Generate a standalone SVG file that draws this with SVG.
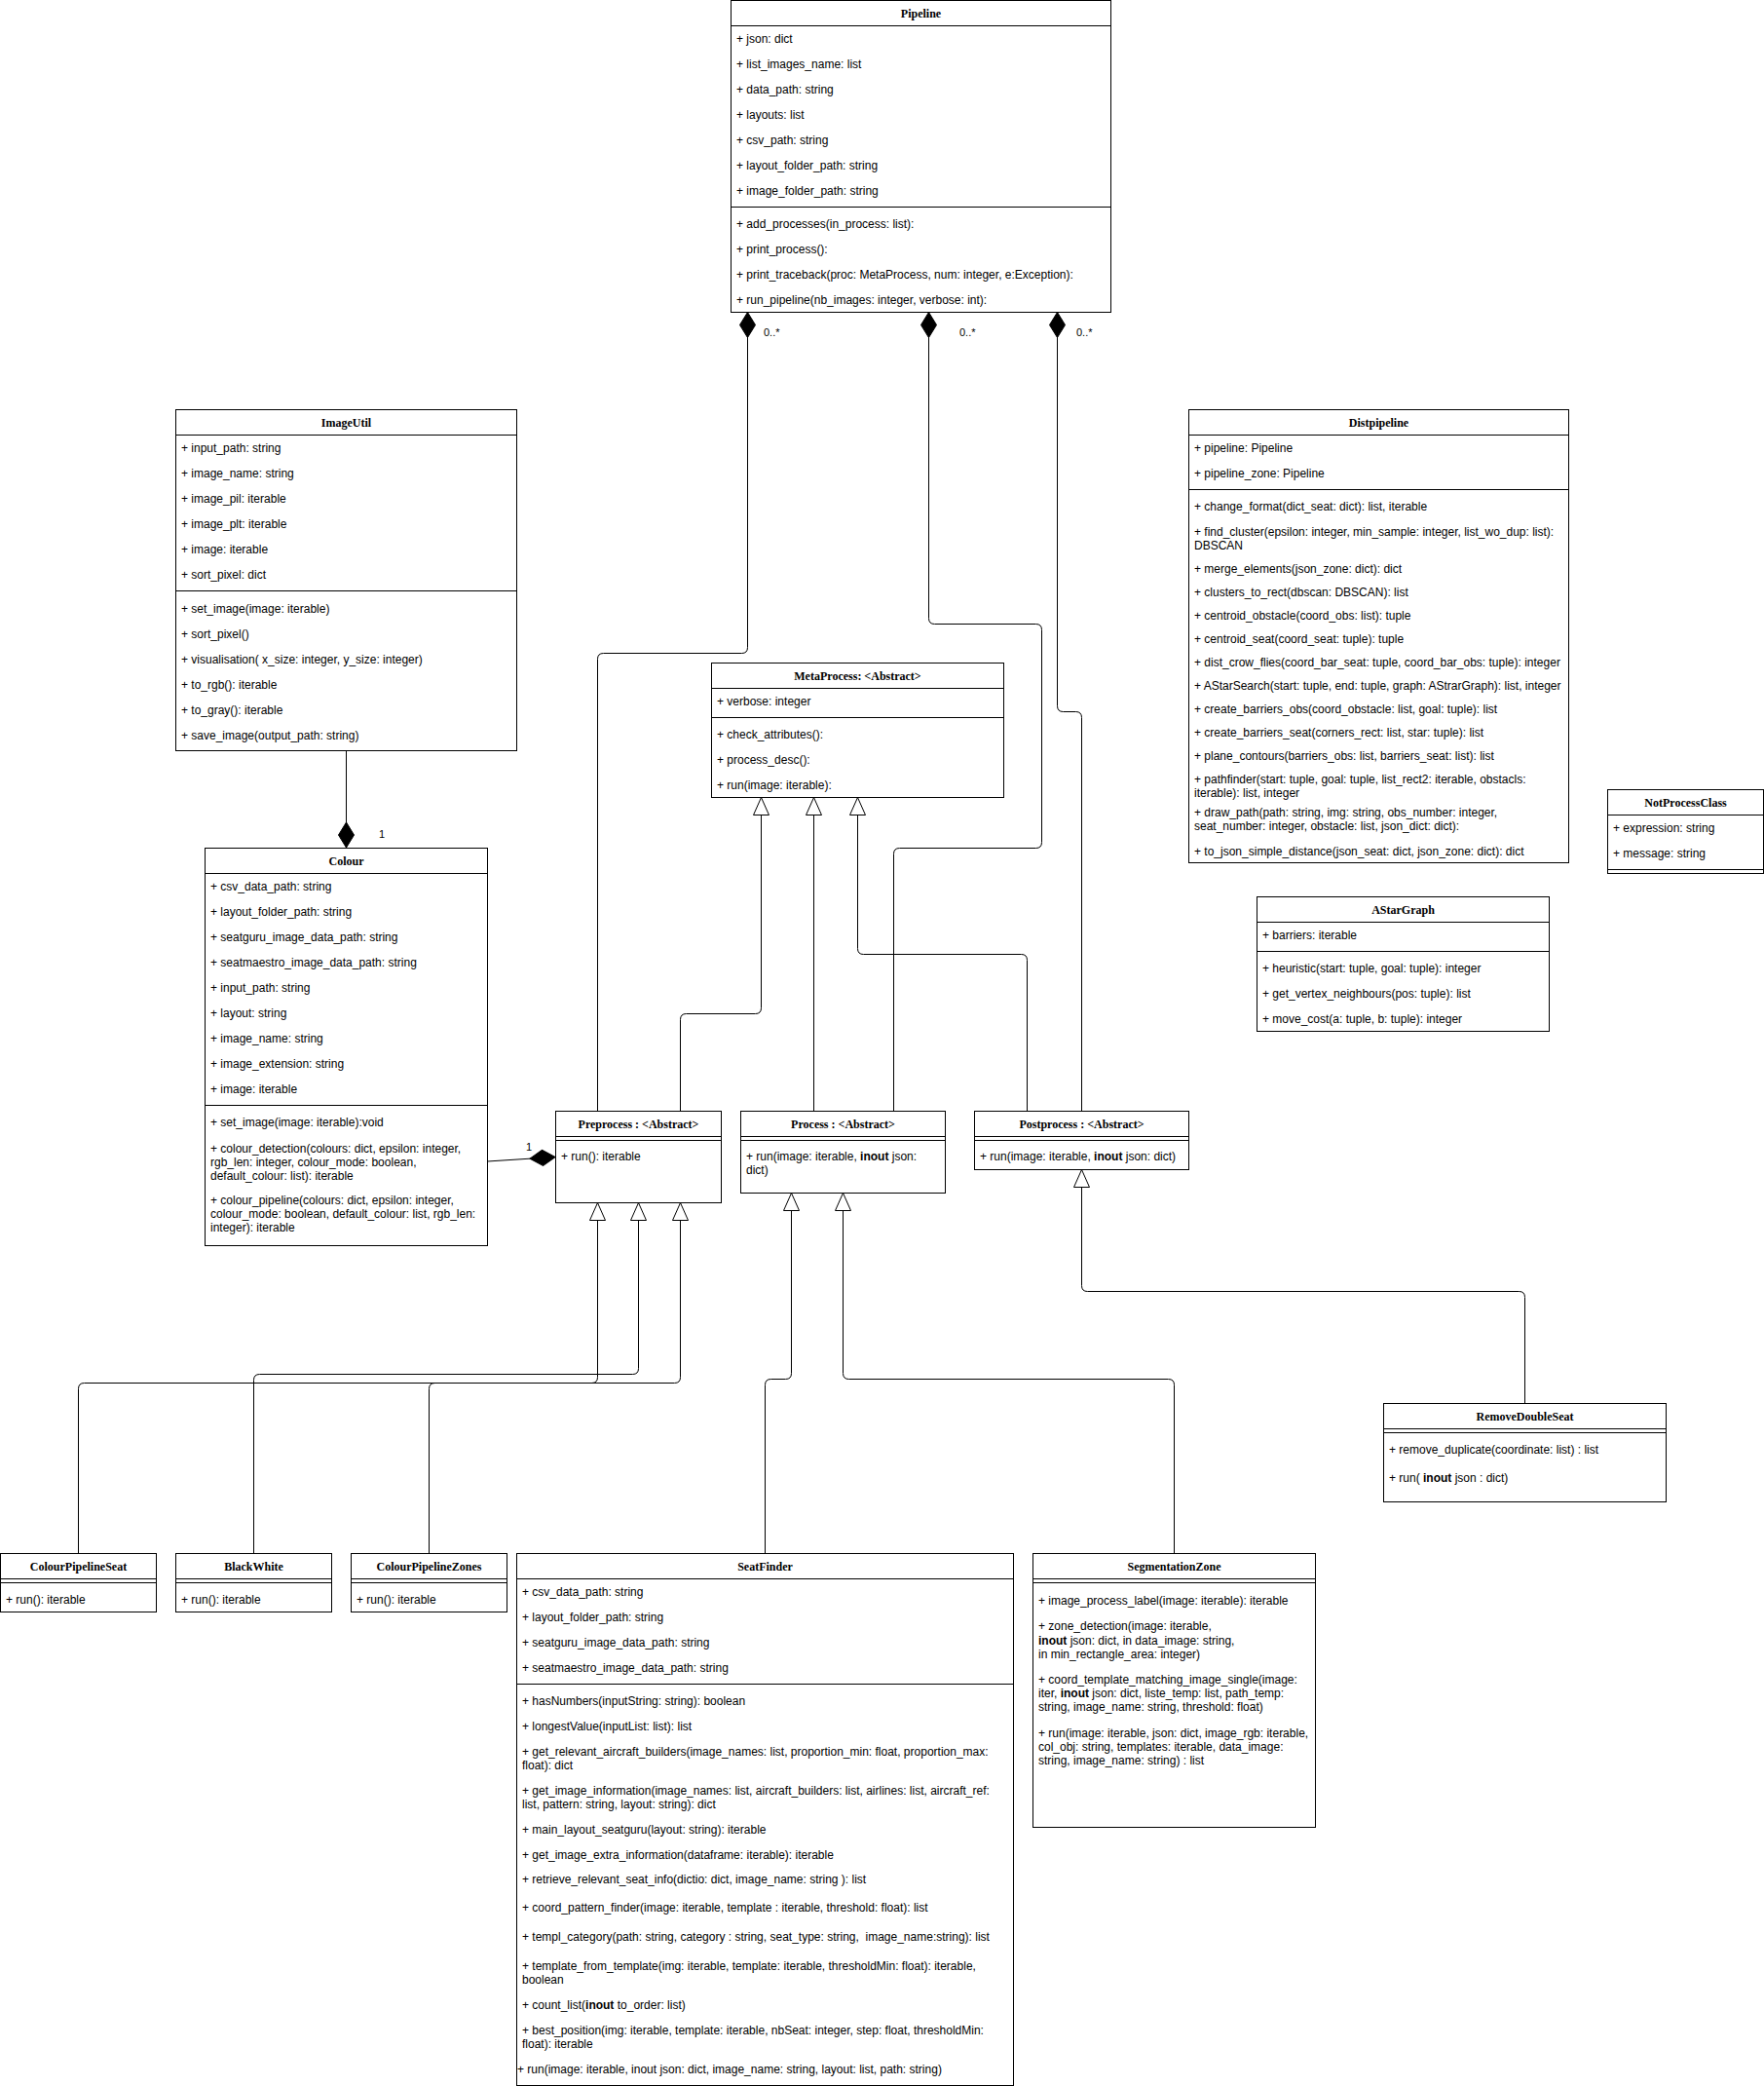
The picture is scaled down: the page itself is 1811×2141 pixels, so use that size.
<svg xmlns="http://www.w3.org/2000/svg" width="1811" height="2141" viewBox="0 0 1811 2141">
<style>
.bg{fill:#fff}
.box{fill:#fff;stroke:#000;stroke-width:1}
.sep{stroke:#000;stroke-width:1;fill:none}
.ln{stroke:#000;stroke-width:1;fill:none}
.t{font-family:"Liberation Sans",Arial,sans-serif;font-size:12px;fill:#000}
.h{font-family:"Liberation Serif","Times New Roman",serif;font-size:12px;font-weight:bold;fill:#000;text-anchor:middle}
.lbl{font-family:"Liberation Sans",Arial,sans-serif;font-size:11px;fill:#000}
.b{font-weight:bold}
</style>
<defs>
<marker id="tri" viewBox="0 0 18 16" refX="18" refY="8" markerWidth="18" markerHeight="16" markerUnits="userSpaceOnUse" orient="auto" overflow="visible"><path d="M0,0 L18,8 L0,16 Z" fill="#fff" stroke="#000" stroke-width="1"/></marker>
<marker id="dia" viewBox="0 0 26 16" refX="0" refY="8" markerWidth="26" markerHeight="16" markerUnits="userSpaceOnUse" orient="auto" overflow="visible"><path d="M0,8 L13,0 L26,8 L13,16 Z" fill="#000" stroke="#000" stroke-width="1"/></marker>
</defs>
<rect class="bg" x="0" y="0" width="1811" height="2141"/>

<g id="connectors">
<path class="ln" marker-start="url(#dia)" d="M767.5,320.5 V664.5 Q767.5,670.5 761.5,670.5 H619.5 Q613.5,670.5 613.5,676.5 V1140"/>
<path class="ln" marker-start="url(#dia)" d="M953.5,320.5 V634.5 Q953.5,640.5 959.5,640.5 H1063.5 Q1069.5,640.5 1069.5,646.5 V864.5 Q1069.5,870.5 1063.5,870.5 H923.5 Q917.5,870.5 917.5,876.5 V1140"/>
<path class="ln" marker-start="url(#dia)" d="M1085.5,320.5 V724.5 Q1085.5,730.5 1091.5,730.5 H1104.5 Q1110.5,730.5 1110.5,736.5 V1140"/>
<path class="ln" marker-end="url(#tri)" d="M698.5,1140 V1046.5 Q698.5,1040.5 704.5,1040.5 H775.5 Q781.5,1040.5 781.5,1034.5 V818.5"/>
<path class="ln" marker-end="url(#tri)" d="M835.5,1140 V818.5"/>
<path class="ln" marker-end="url(#tri)" d="M1054.5,1140 V985.5 Q1054.5,979.5 1048.5,979.5 H886.5 Q880.5,979.5 880.5,973.5 V818.5"/>
<path class="ln" marker-end="url(#tri)" d="M80.5,1594 V1425.5 Q80.5,1419.5 86.5,1419.5 H607.5 Q613.5,1419.5 613.5,1413.5 V1234.5"/>
<path class="ln" marker-end="url(#tri)" d="M260.5,1594 V1416.5 Q260.5,1410.5 266.5,1410.5 H649.5 Q655.5,1410.5 655.5,1404.5 V1234.5"/>
<path class="ln" marker-end="url(#tri)" d="M440.5,1594 V1425.5 Q440.5,1419.5 446.5,1419.5 H692.5 Q698.5,1419.5 698.5,1413.5 V1234.5"/>
<path class="ln" marker-end="url(#tri)" d="M785.5,1594 V1421.5 Q785.5,1415.5 791.5,1415.5 H806.5 Q812.5,1415.5 812.5,1409.5 V1224.5"/>
<path class="ln" marker-end="url(#tri)" d="M1205.5,1594 V1421.5 Q1205.5,1415.5 1199.5,1415.5 H871.5 Q865.5,1415.5 865.5,1409.5 V1224.5"/>
<path class="ln" marker-end="url(#tri)" d="M1565.5,1440 V1331.5 Q1565.5,1325.5 1559.5,1325.5 H1116.5 Q1110.5,1325.5 1110.5,1319.5 V1200.5"/>
<path class="ln" marker-start="url(#dia)" d="M355.5,870 V770"/>
<path class="ln" marker-start="url(#dia)" d="M570,1187.5 L500.5,1192"/>
<text class="lbl" x="784" y="345">0..*</text>
<text class="lbl" x="985" y="345">0..*</text>
<text class="lbl" x="1105" y="345">0..*</text>
<text class="lbl" x="392" y="860" text-anchor="middle">1</text>
<text class="lbl" x="543" y="1181" text-anchor="middle">1</text>
</g>

<g id="Pipeline">
<rect class="box" x="750.5" y="0.5" width="390" height="320"/>
<line class="sep" x1="750.5" y1="26.5" x2="1140.5" y2="26.5"/>
<line class="sep" x1="750.5" y1="212.5" x2="1140.5" y2="212.5"/>
<text class="h" x="945.5" y="18">Pipeline</text>
<text class="t" x="756" y="44">+ json: dict</text>
<text class="t" x="756" y="70">+ list_images_name: list</text>
<text class="t" x="756" y="96">+ data_path: string</text>
<text class="t" x="756" y="122">+ layouts: list</text>
<text class="t" x="756" y="148">+ csv_path: string</text>
<text class="t" x="756" y="174">+ layout_folder_path: string</text>
<text class="t" x="756" y="200">+ image_folder_path: string</text>
<text class="t" x="756" y="234">+ add_processes(in_process: list):</text>
<text class="t" x="756" y="260">+ print_process():</text>
<text class="t" x="756" y="286">+ print_traceback(proc: MetaProcess, num: integer, e:Exception):</text>
<text class="t" x="756" y="312">+ run_pipeline(nb_images: integer, verbose: int):</text>
</g>

<g id="ImageUtil">
<rect class="box" x="180.5" y="420.5" width="350" height="350"/>
<line class="sep" x1="180.5" y1="446.5" x2="530.5" y2="446.5"/>
<line class="sep" x1="180.5" y1="606.5" x2="530.5" y2="606.5"/>
<text class="h" x="355.5" y="438">ImageUtil</text>
<text class="t" x="186" y="464">+ input_path: string</text>
<text class="t" x="186" y="490">+ image_name: string</text>
<text class="t" x="186" y="516">+ image_pil: iterable</text>
<text class="t" x="186" y="542">+ image_plt: iterable</text>
<text class="t" x="186" y="568">+ image: iterable</text>
<text class="t" x="186" y="594">+ sort_pixel: dict</text>
<text class="t" x="186" y="629">+ set_image(image: iterable)</text>
<text class="t" x="186" y="655">+ sort_pixel()</text>
<text class="t" x="186" y="681">+ visualisation( x_size: integer, y_size: integer)</text>
<text class="t" x="186" y="707">+ to_rgb(): iterable</text>
<text class="t" x="186" y="733">+ to_gray(): iterable</text>
<text class="t" x="186" y="759">+ save_image(output_path: string)</text>
</g>

<g id="Colour">
<rect class="box" x="210.5" y="870.5" width="290" height="408"/>
<line class="sep" x1="210.5" y1="896.5" x2="500.5" y2="896.5"/>
<line class="sep" x1="210.5" y1="1134.5" x2="500.5" y2="1134.5"/>
<text class="h" x="355.5" y="888">Colour</text>
<text class="t" x="216" y="914">+ csv_data_path: string</text>
<text class="t" x="216" y="940">+ layout_folder_path: string</text>
<text class="t" x="216" y="966">+ seatguru_image_data_path: string</text>
<text class="t" x="216" y="992">+ seatmaestro_image_data_path: string</text>
<text class="t" x="216" y="1018">+ input_path: string</text>
<text class="t" x="216" y="1044">+ layout: string</text>
<text class="t" x="216" y="1070">+ image_name: string</text>
<text class="t" x="216" y="1096">+ image_extension: string</text>
<text class="t" x="216" y="1122">+ image: iterable</text>
<text class="t" x="216" y="1156">+ set_image(image: iterable):void</text>
<text class="t" x="216" y="1182.5">+ colour_detection(colours: dict, epsilon: integer,</text>
<text class="t" x="216" y="1196.5">rgb_len: integer, colour_mode: boolean,</text>
<text class="t" x="216" y="1210.5">default_colour: list): iterable</text>
<text class="t" x="216" y="1236">+ colour_pipeline(colours: dict, epsilon: integer,</text>
<text class="t" x="216" y="1250">colour_mode: boolean, default_colour: list, rgb_len:</text>
<text class="t" x="216" y="1264">integer): iterable</text>
</g>

<g id="MetaProcess">
<rect class="box" x="730.5" y="680.5" width="300" height="138"/>
<line class="sep" x1="730.5" y1="706.5" x2="1030.5" y2="706.5"/>
<line class="sep" x1="730.5" y1="736.5" x2="1030.5" y2="736.5"/>
<text class="h" x="880.5" y="698">MetaProcess: &lt;Abstract&gt;</text>
<text class="t" x="736" y="724">+ verbose: integer</text>
<text class="t" x="736" y="758">+ check_attributes():</text>
<text class="t" x="736" y="784">+ process_desc():</text>
<text class="t" x="736" y="810">+ run(image: iterable):</text>
</g>

<g id="Distpipeline">
<rect class="box" x="1220.5" y="420.5" width="390" height="465"/>
<line class="sep" x1="1220.5" y1="446.5" x2="1610.5" y2="446.5"/>
<line class="sep" x1="1220.5" y1="502.5" x2="1610.5" y2="502.5"/>
<text class="h" x="1415.5" y="438">Distpipeline</text>
<text class="t" x="1226" y="464">+ pipeline: Pipeline</text>
<text class="t" x="1226" y="490">+ pipeline_zone: Pipeline</text>
<text class="t" x="1226" y="524">+ change_format(dict_seat: dict): list, iterable</text>
<text class="t" x="1226" y="550">+ find_cluster(epsilon: integer, min_sample: integer, list_wo_dup: list):</text>
<text class="t" x="1226" y="564">DBSCAN</text>
<text class="t" x="1226" y="588">+ merge_elements(json_zone: dict): dict</text>
<text class="t" x="1226" y="612">+ clusters_to_rect(dbscan: DBSCAN): list</text>
<text class="t" x="1226" y="636">+ centroid_obstacle(coord_obs: list): tuple</text>
<text class="t" x="1226" y="660">+ centroid_seat(coord_seat: tuple): tuple</text>
<text class="t" x="1226" y="684">+ dist_crow_flies(coord_bar_seat: tuple, coord_bar_obs: tuple): integer</text>
<text class="t" x="1226" y="708">+ AStarSearch(start: tuple, end: tuple, graph: AStrarGraph): list, integer</text>
<text class="t" x="1226" y="732">+ create_barriers_obs(coord_obstacle: list, goal: tuple): list</text>
<text class="t" x="1226" y="756">+ create_barriers_seat(corners_rect: list, star: tuple): list</text>
<text class="t" x="1226" y="780">+ plane_contours(barriers_obs: list, barriers_seat: list): list</text>
<text class="t" x="1226" y="804">+ pathfinder(start: tuple, goal: tuple, list_rect2: iterable, obstacls:</text>
<text class="t" x="1226" y="818">iterable): list, integer</text>
<text class="t" x="1226" y="837.5">+ draw_path(path: string, img: string, obs_number: integer,</text>
<text class="t" x="1226" y="852">seat_number: integer, obstacle: list, json_dict: dict):</text>
<text class="t" x="1226" y="878">+ to_json_simple_distance(json_seat: dict, json_zone: dict): dict</text>
</g>

<g id="NotProcessClass">
<rect class="box" x="1650.5" y="810.5" width="160" height="86"/>
<line class="sep" x1="1650.5" y1="836.5" x2="1810.5" y2="836.5"/>
<line class="sep" x1="1650.5" y1="892.5" x2="1810.5" y2="892.5"/>
<text class="h" x="1730.5" y="828">NotProcessClass</text>
<text class="t" x="1656" y="854">+ expression: string</text>
<text class="t" x="1656" y="880">+ message: string</text>
</g>

<g id="AStarGraph">
<rect class="box" x="1290.5" y="920.5" width="300" height="138"/>
<line class="sep" x1="1290.5" y1="946.5" x2="1590.5" y2="946.5"/>
<line class="sep" x1="1290.5" y1="976.5" x2="1590.5" y2="976.5"/>
<text class="h" x="1440.5" y="938">AStarGraph</text>
<text class="t" x="1296" y="964">+ barriers: iterable</text>
<text class="t" x="1296" y="998">+ heuristic(start: tuple, goal: tuple): integer</text>
<text class="t" x="1296" y="1024">+ get_vertex_neighbours(pos: tuple): list</text>
<text class="t" x="1296" y="1050">+ move_cost(a: tuple, b: tuple): integer</text>
</g>

<g id="Preprocess">
<rect class="box" x="570.5" y="1140.5" width="170" height="94"/>
<line class="sep" x1="570.5" y1="1166.5" x2="740.5" y2="1166.5"/>
<line class="sep" x1="570.5" y1="1170.5" x2="740.5" y2="1170.5"/>
<text class="h" x="655.5" y="1158">Preprocess : &lt;Abstract&gt;</text>
<text class="t" x="576" y="1191">+ run(): iterable</text>
</g>

<g id="Process">
<rect class="box" x="760.5" y="1140.5" width="210" height="84"/>
<line class="sep" x1="760.5" y1="1166.5" x2="970.5" y2="1166.5"/>
<line class="sep" x1="760.5" y1="1170.5" x2="970.5" y2="1170.5"/>
<text class="h" x="865.5" y="1158">Process : &lt;Abstract&gt;</text>
<text class="t" x="766" y="1191">+ run(image: iterable, <tspan class="b">inout</tspan> json:</text>
<text class="t" x="766" y="1205">dict)</text>
</g>

<g id="Postprocess">
<rect class="box" x="1000.5" y="1140.5" width="220" height="60"/>
<line class="sep" x1="1000.5" y1="1166.5" x2="1220.5" y2="1166.5"/>
<line class="sep" x1="1000.5" y1="1170.5" x2="1220.5" y2="1170.5"/>
<text class="h" x="1110.5" y="1158">Postprocess : &lt;Abstract&gt;</text>
<text class="t" x="1006" y="1191">+ run(image: iterable, <tspan class="b">inout</tspan> json: dict)</text>
</g>

<g id="RemoveDoubleSeat">
<rect class="box" x="1420.5" y="1440.5" width="290" height="101"/>
<line class="sep" x1="1420.5" y1="1466.5" x2="1710.5" y2="1466.5"/>
<line class="sep" x1="1420.5" y1="1470.5" x2="1710.5" y2="1470.5"/>
<text class="h" x="1565.5" y="1458">RemoveDoubleSeat</text>
<text class="t" x="1426" y="1492">+ remove_duplicate(coordinate: list) : list</text>
<text class="t" x="1426" y="1521">+ run( <tspan class="b">inout</tspan> json : dict)</text>
</g>

<g id="ColourPipelineSeat">
<rect class="box" x="0.5" y="1594.5" width="160" height="60"/>
<line class="sep" x1="0.5" y1="1620.5" x2="160.5" y2="1620.5"/>
<line class="sep" x1="0.5" y1="1624.5" x2="160.5" y2="1624.5"/>
<text class="h" x="80.5" y="1612">ColourPipelineSeat</text>
<text class="t" x="6" y="1646">+ run(): iterable</text>
</g>

<g id="BlackWhite">
<rect class="box" x="180.5" y="1594.5" width="160" height="60"/>
<line class="sep" x1="180.5" y1="1620.5" x2="340.5" y2="1620.5"/>
<line class="sep" x1="180.5" y1="1624.5" x2="340.5" y2="1624.5"/>
<text class="h" x="260.5" y="1612">BlackWhite</text>
<text class="t" x="186" y="1646">+ run(): iterable</text>
</g>

<g id="ColourPipelineZones">
<rect class="box" x="360.5" y="1594.5" width="160" height="60"/>
<line class="sep" x1="360.5" y1="1620.5" x2="520.5" y2="1620.5"/>
<line class="sep" x1="360.5" y1="1624.5" x2="520.5" y2="1624.5"/>
<text class="h" x="440.5" y="1612">ColourPipelineZones</text>
<text class="t" x="366" y="1646">+ run(): iterable</text>
</g>

<g id="SeatFinder">
<rect class="box" x="530.5" y="1594.5" width="510" height="546"/>
<line class="sep" x1="530.5" y1="1620.5" x2="1040.5" y2="1620.5"/>
<line class="sep" x1="530.5" y1="1728.5" x2="1040.5" y2="1728.5"/>
<text class="h" x="785.5" y="1612">SeatFinder</text>
<text class="t" x="536" y="1638">+ csv_data_path: string</text>
<text class="t" x="536" y="1664">+ layout_folder_path: string</text>
<text class="t" x="536" y="1690">+ seatguru_image_data_path: string</text>
<text class="t" x="536" y="1716">+ seatmaestro_image_data_path: string</text>
<text class="t" x="536" y="1750">+ hasNumbers(inputString: string): boolean</text>
<text class="t" x="536" y="1776">+ longestValue(inputList: list): list</text>
<text class="t" x="536" y="1802">+ get_relevant_aircraft_builders(image_names: list, proportion_min: float, proportion_max:</text>
<text class="t" x="536" y="1816">float): dict</text>
<text class="t" x="536" y="1841.5">+ get_image_information(image_names: list, aircraft_builders: list, airlines: list, aircraft_ref:</text>
<text class="t" x="536" y="1856">list, pattern: string, layout: string): dict</text>
<text class="t" x="536" y="1881.5">+ main_layout_seatguru(layout: string): iterable</text>
<text class="t" x="536" y="1908">+ get_image_extra_information(dataframe: iterable): iterable</text>
<text class="t" x="536" y="1932.5">+ retrieve_relevant_seat_info(dictio: dict, image_name: string ): list</text>
<text class="t" x="536" y="1962">+ coord_pattern_finder(image: iterable, template : iterable, threshold: float): list</text>
<text class="t" x="536" y="1992">+ templ_category(path: string, category : string, seat_type: string, &#160;image_name:string): list</text>
<text class="t" x="536" y="2022">+ template_from_template(img: iterable, template: iterable, thresholdMin: float): iterable,</text>
<text class="t" x="536" y="2036">boolean</text>
<text class="t" x="536" y="2062">+ count_list(<tspan class="b">inout</tspan> to_order: list)</text>
<text class="t" x="536" y="2088">+ best_position(img: iterable, template: iterable, nbSeat: integer, step: float, thresholdMin:</text>
<text class="t" x="536" y="2102">float): iterable</text>
<text class="t" x="531" y="2128">+ run(image: iterable, inout json: dict, image_name: string, layout: list, path: string)</text>
</g>

<g id="SegmentationZone">
<rect class="box" x="1060.5" y="1594.5" width="290" height="281"/>
<line class="sep" x1="1060.5" y1="1620.5" x2="1350.5" y2="1620.5"/>
<line class="sep" x1="1060.5" y1="1624.5" x2="1350.5" y2="1624.5"/>
<text class="h" x="1205.5" y="1612">SegmentationZone</text>
<text class="t" x="1066" y="1647">+ image_process_label(image: iterable): iterable</text>
<text class="t" x="1066" y="1673">+ zone_detection(image: iterable,</text>
<text class="t" x="1066" y="1687.5"><tspan class="b">inout</tspan> json: dict, in data_image: string,</text>
<text class="t" x="1066" y="1701.5">in min_rectangle_area: integer)</text>
<text class="t" x="1066" y="1727.5">+ coord_template_matching_image_single(image:</text>
<text class="t" x="1066" y="1742">iter, <tspan class="b">inout</tspan> json: dict, liste_temp: list, path_temp:</text>
<text class="t" x="1066" y="1756">string, image_name: string, threshold: float)</text>
<text class="t" x="1066" y="1782.5">+ run(image: iterable, json: dict, image_rgb: iterable,</text>
<text class="t" x="1066" y="1797">col_obj: string, templates: iterable, data_image:</text>
<text class="t" x="1066" y="1811">string, image_name: string) : list</text>
</g>
</svg>
